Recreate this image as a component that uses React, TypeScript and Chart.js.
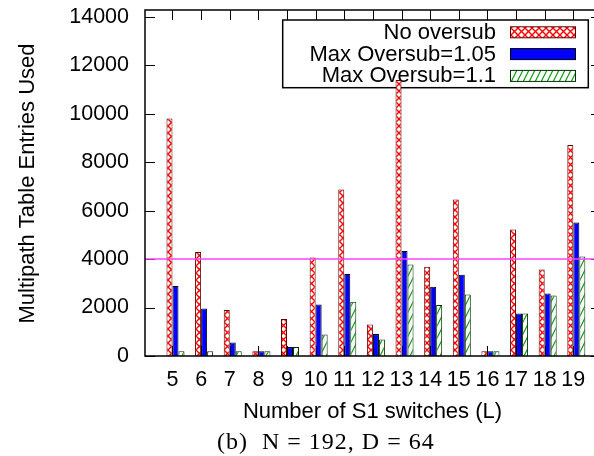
import React, { useEffect, useRef } from 'react';
import { Chart, registerables } from 'chart.js';

Chart.register(...registerables);

// ---- data ----
const categories = [5, 6, 7, 8, 9, 10, 11, 12, 13, 14, 15, 16, 17, 18, 19];
const noOversub = [9806, 4288, 1894, 200, 1523, 4069, 6875, 1304, 11387, 3681, 6463, 200, 5225, 3574, 8704];
const oversub105 = [2885, 1964, 561, 200, 367, 2130, 3380, 904, 4329, 2856, 3351, 200, 1758, 2584, 5514];
const oversub11 = [200, 200, 200, 200, 367, 891, 2237, 685, 3780, 2101, 2542, 200, 1758, 2501, 4111];
const seriesLabels = ['No oversub', 'Max Oversub=1.05', 'Max Oversub=1.1'];
const yTicks = [0, 2000, 4000, 6000, 8000, 10000, 12000, 14000];
const limitValue = 4000;
const xTitle = 'Number of S1 switches (L)';
const yTitle = 'Multipath Table Entries Used';
const caption = '(b)  N = 192, D = 64';

const SANS = '"Liberation Sans", Arial, Helvetica, sans-serif';
const SERIF = '"Liberation Serif", "Times New Roman", Times, serif';

function makeCrossPattern(): CanvasPattern | string {
  const s = 7;
  const t = document.createElement('canvas');
  t.width = s; t.height = s;
  const c = t.getContext('2d');
  if (!c) return '#ff0000';
  c.fillStyle = '#fff';
  c.fillRect(0, 0, s, s);
  c.strokeStyle = '#ff0000';
  c.lineWidth = 1.4;
  c.beginPath();
  c.moveTo(-1, -1); c.lineTo(s + 1, s + 1);
  c.moveTo(s + 1, -1); c.lineTo(-1, s + 1);
  c.stroke();
  return c.createPattern(t, 'repeat') || '#ff0000';
}

function makeHatchPattern(): CanvasPattern | string {
  const w = 6, h = 12;
  const t = document.createElement('canvas');
  t.width = w; t.height = h;
  const c = t.getContext('2d');
  if (!c) return '#009000';
  c.fillStyle = '#fff';
  c.fillRect(0, 0, w, h);
  c.strokeStyle = '#009a00';
  c.lineWidth = 1.1;
  c.beginPath();
  for (const dx of [-w, 0, w]) {
    c.moveTo(dx - 1, h + 2);
    c.lineTo(dx + w + 1, -2);
  }
  c.stroke();
  return c.createPattern(t, 'repeat') || '#009000';
}

export default function App() {
  const ref = useRef<HTMLCanvasElement>(null);

  useEffect(() => {
    const canvas = ref.current;
    if (!canvas) return;
    const cross = makeCrossPattern();
    const hatch = makeHatchPattern();
    const fills: (CanvasPattern | string)[] = [cross, '#0000ff', hatch];
    const borders = ['#600000', '#000000', '#003000'];
    const series = [noOversub, oversub105, oversub11];

    const tickPx = (x: any, c: number) => x.getPixelForValue(c) - 3;

    const deco = {
      id: 'deco',
      beforeDatasetsDraw(chart: any) {
        const { ctx, chartArea: a, scales } = chart;
        const x = scales.x, y = scales.y;
        ctx.save();
        // legend box
        const lx = 282.7, ly = 20, lw = 305.6, lh = 67.7;
        ctx.fillStyle = '#fff';
        ctx.fillRect(lx, ly, lw, lh);
        ctx.strokeStyle = '#000';
        ctx.lineWidth = 1.5;
        ctx.strokeRect(lx, ly, lw, lh);
        const rows = [32.3, 54.1, 75.9];
        ctx.font = `22px ${SANS}`;
        ctx.textAlign = 'right';
        ctx.textBaseline = 'alphabetic';
        rows.forEach((cy, i) => {
          ctx.fillStyle = '#000';
          ctx.fillText(seriesLabels[i], 496, cy + 6.5);
          ctx.fillStyle = fills[i];
          ctx.fillRect(510, cy - 5.5, 65, 11);
          ctx.strokeStyle = borders[i];
          ctx.lineWidth = 1;
          ctx.strokeRect(510.5, cy - 5.5, 65, 11);
        });
        // ticks (inward, mirrored)
        ctx.strokeStyle = '#000';
        ctx.lineWidth = 1;
        ctx.beginPath();
        categories.forEach((c) => {
          const px = Math.round(tickPx(x, c)) + 0.5;
          ctx.moveTo(px, a.bottom); ctx.lineTo(px, a.bottom - 10);
          ctx.moveTo(px, a.top); ctx.lineTo(px, a.top + 10);
        });
        yTicks.forEach((v) => {
          const py = Math.round(y.getPixelForValue(v)) + 0.5;
          ctx.moveTo(a.left, py); ctx.lineTo(a.left + 10, py);
          ctx.moveTo(a.right, py); ctx.lineTo(a.right - 10, py);
        });
        ctx.stroke();
        ctx.restore();
      },
      afterDatasetsDraw(chart: any) {
        const { ctx, chartArea: a, scales } = chart;
        const y = scales.y;
        ctx.save();
        const ly = y.getPixelForValue(limitValue);
        ctx.strokeStyle = '#ff40ff';
        ctx.lineWidth = 1.5;
        ctx.beginPath();
        ctx.moveTo(a.left, ly);
        ctx.lineTo(a.right, ly);
        ctx.stroke();
        ctx.strokeStyle = '#000';
        ctx.lineWidth = 1.5;
        ctx.strokeRect(a.left, a.top, a.right - a.left, a.bottom - a.top);
        ctx.restore();
      },
      afterDraw(chart: any) {
        const { ctx } = chart;
        ctx.save();
        ctx.fillStyle = '#000';
        ctx.font = `22px ${SANS}`;
        ctx.textAlign = 'center';
        ctx.textBaseline = 'alphabetic';
        ctx.fillText(xTitle, 372.5, 417.5);
        ctx.save();
        ctx.translate(33.5, 183.5);
        ctx.rotate(-Math.PI / 2);
        ctx.fillText(yTitle, 0, 0);
        ctx.restore();
        ctx.font = `24px ${SERIF}`;
        ctx.textAlign = 'left';
        try { (ctx as any).letterSpacing = '1px'; } catch (e) { /* ignore */ }
        ctx.fillText(caption, 217, 449);
        try { (ctx as any).letterSpacing = '0px'; } catch (e) { /* ignore */ }
        ctx.restore();
      },
    };

    const chart = new Chart(canvas, {
      type: 'bar',
      data: {
        datasets: series.map((s, i) => ({
          label: seriesLabels[i],
          data: categories.map((c, j) => ({ x: c, y: s[j] })),
          backgroundColor: fills[i] as any,
          borderColor: borders[i],
          borderWidth: 1,
          borderSkipped: 'start',
          categoryPercentage: 0.629,
          barPercentage: 1.0,
        })),
      },
      options: {
        animation: false,
        responsive: false,
        devicePixelRatio: 1,
        layout: { padding: { top: 10, right: 9, left: 0, bottom: 0 } },
        plugins: { legend: { display: false }, tooltip: { enabled: false }, title: { display: false } },
        scales: {
          x: {
            type: 'linear',
            min: 3.935,
            max: 19.862,
            offset: false,
            grid: { display: false, drawTicks: false, offset: false },
            border: { display: false },
            ticks: {
              labelOffset: -3,
              padding: 11,
              color: '#000',
              font: { family: SANS, size: 21.5 },
              autoSkip: false,
              maxRotation: 0,
              callback: (v: any) => String(v),
            },
            afterBuildTicks: (s: any) => { s.ticks = categories.map((v) => ({ value: v })); },
            afterFit: (s: any) => { s.height = 100; s.paddingLeft = 0; s.paddingRight = 0; },
          } as any,
          y: {
            type: 'linear',
            min: 0,
            max: 14280,
            grid: { display: false, drawTicks: false },
            border: { display: false },
            ticks: {
              padding: 16,
              color: '#000',
              font: { family: SANS, size: 21.5 },
              callback: (v: any) => String(v),
            },
            afterBuildTicks: (s: any) => { s.ticks = yTicks.map((v) => ({ value: v })); },
            afterFit: (s: any) => { s.width = 145; s.paddingTop = 0; s.paddingBottom = 0; },
          } as any,
        },
      },
      plugins: [deco],
    } as any);

    return () => chart.destroy();
  }, []);

  return (
    <div style={{ position: 'fixed', left: 0, top: 0, width: 594, height: 456, overflow: 'hidden', background: '#fff' }}>
      <canvas ref={ref} width={610} height={456} style={{ display: 'block', width: 610, height: 456 }} />
    </div>
  );
}
